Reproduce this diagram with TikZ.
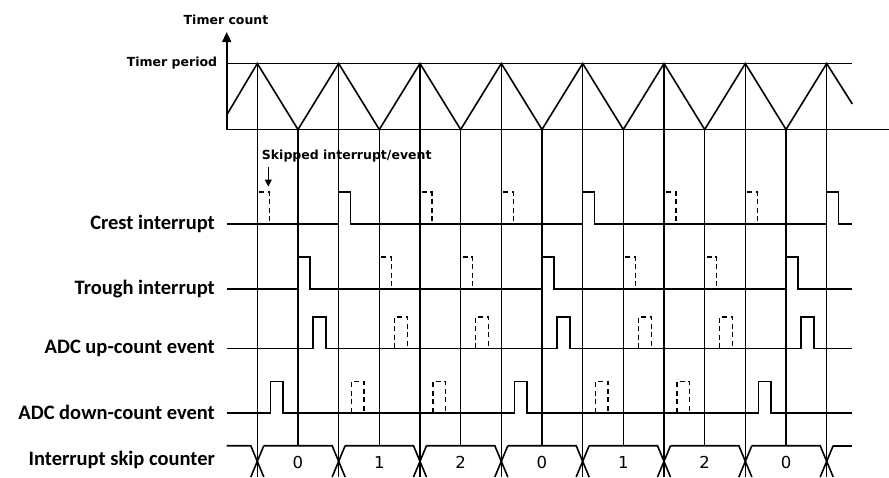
\documentclass[tikz,border=0pt]{standalone}
\usepackage{fontspec}
\setmainfont{Carlito}
\newfontfamily\dvs{DejaVu Sans}
\usetikzlibrary{arrows.meta,calc}
\tikzset{
  wire/.style={line width=1.6pt, line join=miter},
  skipped/.style={line width=1.5pt, dash pattern=on 5pt off 3.5pt},
  rowlabel/.style={anchor=east, inner sep=0pt, font=\bfseries\fontsize{20.5}{24}\selectfont},
  toplabel/.style={inner sep=0pt, font=\dvs\bfseries\fontsize{12.5}{15}\selectfont},
  countlabel/.style={inner sep=0pt, font=\dvs\fontsize{16.5}{19}\selectfont},
}
\begin{document}
\begin{tikzpicture}[x=1pt,y=-1pt]
\useasboundingbox (0,0) rectangle (889,477);
% peaks and troughs
\foreach \k in {0,...,7} {\coordinate (p\k) at ({257.3+81.34*\k},63.5);}
\foreach \k in {0,...,6} {\coordinate (t\k) at ({297.97+81.34*\k},129.5);}
% axes
\draw[wire,-{Triangle[length=10pt,width=9pt]}] (226.7,129.5) coordinate (org) -- (226.7,32) coordinate (ytop);
\draw[wire] (org) -- (889,129.5);
\draw[wire] (226.7,63.5) -- (852.3,63.5);
% triangle wave
\draw[wire] (226.7,115) -- (p0) -- (t0) -- (p1) -- (t1) -- (p2) -- (t2) -- (p3) -- (t3)
  -- (p4) -- (t4) -- (p5) -- (t5) -- (p6) -- (t6) -- (p7) -- (852.3,104);
% vertical guide lines
\foreach \k in {0,...,7} {\draw[wire] (p\k) -- (p\k |- 0,477);}
\foreach \k in {0,...,6} {\draw[wire] (t\k) -- (t\k |- 0,445.7);}
% labels at top
\node[toplabel] (tc) at (226,20) {Timer count};
\node[toplabel, anchor=east] (tp) at (217.3,63.3) {Timer period};
\node[toplabel, anchor=west] (sk) at (261.7,156) {Skipped interrupt/event};
\draw[line width=1.4pt,-{Triangle[length=7pt,width=7pt]}] (268.3,167) -- (268.3,186.5);
% Crest interrupt
\node[rowlabel] (crest) at (215,224) {Crest interrupt};
\draw[wire] (226.7,224) foreach \x in {338.64,582.66,826.68} { -- (\x,224) -- (\x,192) -- ({\x+12},192) -- ({\x+12},224) } -- (852.3,224);
\foreach \x in {257.3,419.98,501.32,664.0,745.34} {\draw[skipped] (\x,224) -- (\x,192) -- ({\x+12},192) -- ({\x+12},224);}
% Trough interrupt
\node[rowlabel] (trough) at (215,289) {Trough interrupt};
\draw[wire] (226.7,289) foreach \x in {297.97,541.99,786.01} { -- (\x,289) -- (\x,257) -- ({\x+12},257) -- ({\x+12},289) } -- (852.3,289);
\foreach \x in {379.31,460.65,623.33,704.67} {\draw[skipped] (\x,289) -- (\x,257) -- ({\x+12},257) -- ({\x+12},289);}
% ADC up-count event
\node[rowlabel] (up) at (215,348.3) {ADC up-count event};
\draw[wire] (226.7,348.3) foreach \x in {312.97,556.99,801.01} { -- (\x,348.3) -- (\x,317) -- ({\x+13},317) -- ({\x+13},348.3) } -- (852.3,348.3);
\foreach \x in {394.31,475.65,638.33,719.67} {\draw[skipped] (\x,348.3) -- (\x,317) -- ({\x+13},317) -- ({\x+13},348.3);}
% ADC down-count event
\node[rowlabel] (down) at (215,412.7) {ADC down-count event};
\draw[wire] (226.7,412.7) foreach \x in {270.3,514.32,758.34} { -- (\x,412.7) -- (\x,381.5) -- ({\x+12.5},381.5) -- ({\x+12.5},412.7) } -- (852.3,412.7);
\foreach \x in {351.64,432.98,595.66,677.0} {\draw[skipped] (\x,412.7) -- (\x,381.5) -- ({\x+12.5},381.5) -- ({\x+12.5},412.7);}
% Interrupt skip counter bus
\node[rowlabel] (bus) at (215,460) {Interrupt skip counter};
\draw[wire] (226.7,445.7) -- (250.8,445.7) -- (263.8,477);
\foreach \k [count=\n from 1] in {0,...,6} {
  \draw[wire] ($(p\k)+(6.5,382.2)$) -- ($(p\k)+(-6.5,413.5)$);
  \draw[wire] ($(p\k)+(6.5,382.2)$) -- ($(p\n)+(-6.5,382.2)$) -- ($(p\n)+(6.5,413.5)$);
}
\draw[wire] ($(p7)+(6.5,382.2)$) -- ($(p7)+(-6.5,413.5)$);
\draw[wire] ($(p7)+(6.5,382.2)$) -- (852.3,445.7);
\foreach \k/\v in {0/0,1/1,2/2,3/0,4/1,5/2,6/0} {\node[countlabel] (c\k) at (t\k |- 0,462) {\v};}
\end{tikzpicture}
\end{document}
